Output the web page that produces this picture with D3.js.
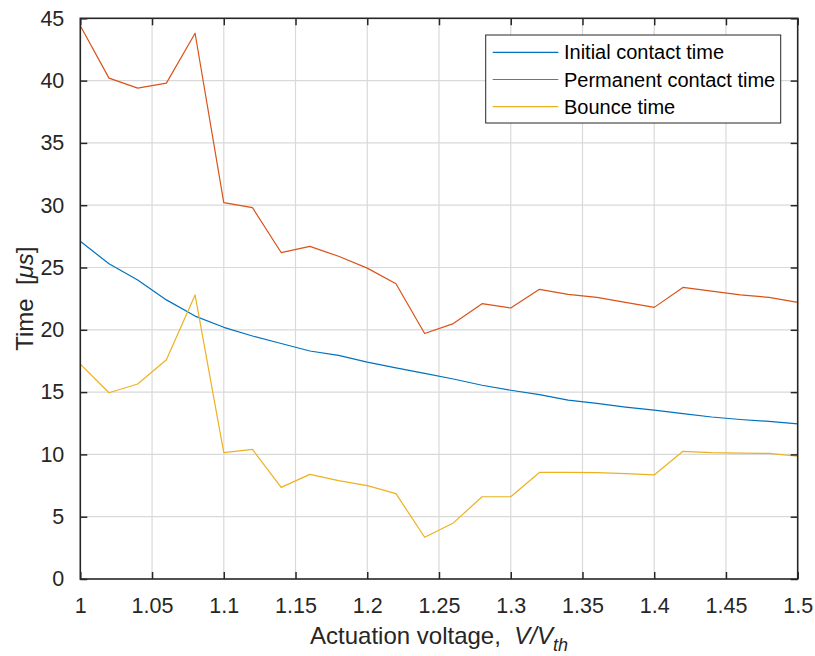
<!DOCTYPE html>
<html>
<head>
<meta charset="utf-8">
<script src="https://cdn.jsdelivr.net/npm/d3@7"></script>
<style>
  body { margin: 0; background: #fff; }
  svg { display: block; font-family: "Liberation Sans", Arial, Helvetica, sans-serif; }
</style>
</head>
<body>
<div id="chart"></div>
<script>
// Normalised actuation voltage V/Vth, sampled every 0.02
const voltage = [1.00, 1.02, 1.04, 1.06, 1.08, 1.10, 1.12, 1.14, 1.16, 1.18, 1.20, 1.22, 1.24,
  1.26, 1.28, 1.30, 1.32, 1.34, 1.36, 1.38, 1.40, 1.42, 1.44, 1.46, 1.48, 1.50];

// times in microseconds
const initialContact = [27.1, 25.3, 24.0, 22.4, 21.1, 20.2, 19.5, 18.9, 18.3, 17.95, 17.4, 16.95, 16.5,
  16.05, 15.55, 15.15, 14.8, 14.35, 14.1, 13.8, 13.55, 13.27, 13.0, 12.8, 12.65, 12.45];
const permanentContact = [44.4, 40.2, 39.4, 39.8, 43.8, 30.2, 29.8, 26.2, 26.7, 25.9, 24.95, 23.7, 19.7,
  20.5, 22.1, 21.75, 23.25, 22.85, 22.6, 22.2, 21.8, 23.4, 23.1, 22.8, 22.6, 22.2];
const bounceTime = [17.25, 14.95, 15.65, 17.6, 22.8, 10.15, 10.4, 7.35, 8.4, 7.9, 7.5, 6.85, 3.35,
  4.5, 6.6, 6.6, 8.55, 8.55, 8.53, 8.45, 8.35, 10.25, 10.14, 10.1, 10.08, 9.85];

const seriesNames = ["Initial contact time", "Permanent contact time", "Bounce time"];
const seriesColors = ["#0072BD", "#D95319", "#EDB120"];
const xTicks = [1, 1.05, 1.1, 1.15, 1.2, 1.25, 1.3, 1.35, 1.4, 1.45, 1.5];
const yTicks = [0, 5, 10, 15, 20, 25, 30, 35, 40, 45];

const width = 815, height = 656;
const plot = { left: 80.3, right: 797.7, top: 18.3, bottom: 579 };
const axisColor = "#262626";
const tickFont = 21.5;
const titleFont = 24;
const legendFont = 20;

const svg = d3.select("#chart").append("svg")
  .attr("width", width)
  .attr("height", height);

const x = d3.scaleLinear().domain([1, 1.5]).range([plot.left, plot.right]);
const y = d3.scaleLinear().domain([0, 45]).range([plot.bottom, plot.top]);

// grid
const grid = svg.append("g").attr("class", "grid");
grid.selectAll(".vgrid").data(xTicks.slice(1, -1)).enter().append("line")
  .attr("x1", d => x(d)).attr("x2", d => x(d))
  .attr("y1", plot.top).attr("y2", plot.bottom)
  .attr("stroke", "#d9d9d9").attr("stroke-width", 1.2);
grid.selectAll(".hgrid").data(yTicks.slice(1, -1)).enter().append("line")
  .attr("x1", plot.left).attr("x2", plot.right)
  .attr("y1", d => y(d)).attr("y2", d => y(d))
  .attr("stroke", "#d9d9d9").attr("stroke-width", 1.2);

// data lines
const series = [initialContact, permanentContact, bounceTime];
const line = d3.line()
  .x((d, i) => x(voltage[i]))
  .y(d => y(d));

svg.append("g").selectAll("path").data(series).enter().append("path")
  .attr("d", line)
  .attr("fill", "none")
  .attr("stroke", (d, i) => seriesColors[i])
  .attr("stroke-width", 1.2)
  .attr("stroke-linejoin", "round");

// axes: ticks point inward, box drawn on all four sides
const tickLen = 7;
const fmt = d => String(+d.toFixed(2));

const xAxisBottom = d3.axisBottom(x).tickValues(xTicks).tickSize(-tickLen).tickPadding(tickLen + 12).tickFormat(fmt);
const xAxisTop = d3.axisTop(x).tickValues(xTicks).tickSize(-tickLen).tickFormat("");
const yAxisLeft = d3.axisLeft(y).tickValues(yTicks).tickSize(-tickLen).tickPadding(tickLen + 9).tickFormat(fmt);
const yAxisRight = d3.axisRight(y).tickValues(yTicks).tickSize(-tickLen).tickFormat("");

function styleAxis(g) {
  g.select(".domain").remove();
  g.attr("font-size", tickFont).attr("font-family", "'Liberation Sans', Arial, sans-serif");
  g.selectAll(".tick line").attr("stroke", axisColor).attr("stroke-width", 1.5);
  g.selectAll(".tick text").attr("fill", axisColor);
}

svg.append("g").attr("transform", `translate(0,${plot.bottom})`).call(xAxisBottom).call(styleAxis);
svg.append("g").attr("transform", `translate(0,${plot.top})`).call(xAxisTop).call(styleAxis);
svg.append("g").attr("transform", `translate(${plot.left},0)`).call(yAxisLeft).call(styleAxis);
svg.append("g").attr("transform", `translate(${plot.right},0)`).call(yAxisRight).call(styleAxis);

svg.append("rect")
  .attr("x", plot.left).attr("y", plot.top)
  .attr("width", plot.right - plot.left).attr("height", plot.bottom - plot.top)
  .attr("fill", "none").attr("stroke", axisColor).attr("stroke-width", 1.6);

// axis titles
const xTitle = svg.append("text")
  .attr("x", (plot.left + plot.right) / 2)
  .attr("y", 644)
  .attr("text-anchor", "middle")
  .attr("fill", axisColor)
  .style("font-size", titleFont + "px");
xTitle.append("tspan").text("Actuation voltage,\u00a0\u00a0");
xTitle.append("tspan").style("font-style", "italic").text("V/V");
xTitle.append("tspan").style("font-style", "italic").attr("dy", 7).style("font-size", "18px").text("th");

const yTitle = svg.append("text")
  .attr("transform", `translate(33,${(plot.top + plot.bottom) / 2}) rotate(-90)`)
  .attr("text-anchor", "middle")
  .attr("fill", axisColor)
  .style("font-size", titleFont + "px");
yTitle.append("tspan").text("Time\u00a0\u00a0[");
yTitle.append("tspan").style("font-style", "italic").text("\u03bcs");
yTitle.append("tspan").text("]");

// legend
const legend = svg.append("g").attr("transform", "translate(485.7,35)");
legend.append("rect")
  .attr("width", 295).attr("height", 88)
  .attr("fill", "#fff").attr("stroke", axisColor).attr("stroke-width", 1);

const legendRows = legend.selectAll(".entry").data(seriesNames).enter().append("g")
  .attr("transform", (d, i) => `translate(0,${17.3 + i * 27.2})`);
legendRows.append("line")
  .attr("x1", 7).attr("x2", 72.6)
  .attr("stroke", (d, i) => seriesColors[i])
  .attr("stroke-width", 1.2);
legendRows.append("text")
  .attr("x", 78.3)
  .attr("dy", "0.35em")
  .attr("fill", "#000")
  .style("font-size", legendFont + "px")
  .text(d => d);
</script>
</body>
</html>
